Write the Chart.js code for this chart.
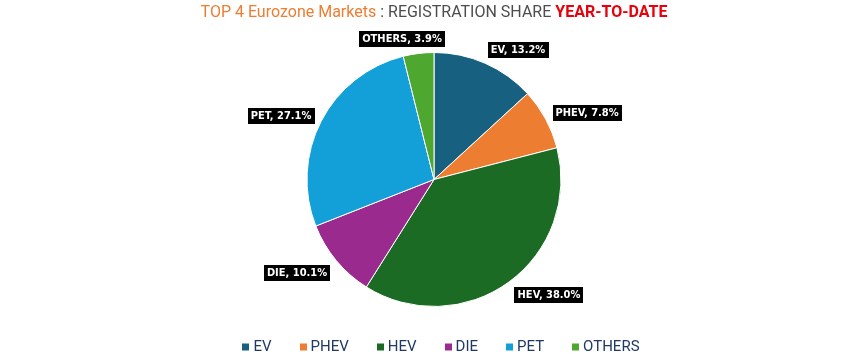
<!DOCTYPE html>
<html>
<head>
<meta charset="utf-8">
<script src="https://cdn.jsdelivr.net/npm/chart.js@4"></script>
<style>
  html, body { margin: 0; padding: 0; background: #ffffff; }
  #wrap { position: relative; width: 862px; height: 357px; }
</style>
</head>
<body>
<div id="wrap"><canvas id="c" width="862" height="357"></canvas></div>
<script>
// ---- data ----
const categories = ['EV', 'PHEV', 'HEV', 'DIE', 'PET', 'OTHERS'];
const shares = [13.2, 7.8, 38.0, 10.1, 27.1, 3.9];
const colors = ['#18607f', '#ed7d31', '#1b6b25', '#9b2a8f', '#139fd8', '#4ea72e'];
const titleParts = [
  { text: 'TOP 4 Eurozone Markets', color: '#ed7d31', weight: '400' },
  { text: ' : REGISTRATION SHARE ', color: '#4d4d4d', weight: '400' },
  { text: 'YEAR-TO-DATE', color: '#e8000b', weight: '700' }
];

const TITLE_FONT = 'Roboto, "Liberation Sans", sans-serif';
const LABEL_FONT = '"Liberation Sans Narrow", "DejaVu Sans Condensed", "Liberation Sans", sans-serif';
const LEGEND_FONT = 'Roboto, "Liberation Sans", sans-serif';
// small manual label shifts (style only), in px
const labelShift = [[0, 0], [2, 5], [2, 0], [-1, 1], [-1, 5], [0, 0]];

const titlePlugin = {
  id: 'multiTitle',
  afterDraw(chart) {
    const ctx = chart.ctx;
    ctx.save();
    ctx.textBaseline = 'alphabetic';
    let total = 0;
    const widths = titleParts.map(p => {
      ctx.font = p.weight + ' 16px ' + TITLE_FONT;
      const w = ctx.measureText(p.text).width;
      total += w;
      return w;
    });
    const cx = (chart.chartArea.left + chart.chartArea.right) / 2;
    let x = cx - total / 2;
    titleParts.forEach((p, i) => {
      ctx.font = p.weight + ' 16px ' + TITLE_FONT;
      ctx.fillStyle = p.color;
      ctx.textAlign = 'left';
      ctx.fillText(p.text, x, 17);
      x += widths[i];
    });
    ctx.restore();
  }
};

const labelPlugin = {
  id: 'boxLabels',
  afterDatasetsDraw(chart) {
    const ctx = chart.ctx;
    const meta = chart.getDatasetMeta(0);
    ctx.save();
    ctx.font = 'bold 11px ' + LABEL_FONT;
    ctx.textAlign = 'center';
    ctx.textBaseline = 'middle';
    meta.data.forEach((arc, i) => {
      const p = arc.getProps(['x', 'y', 'startAngle', 'endAngle', 'outerRadius'], true);
      const mid = (p.startAngle + p.endAngle) / 2;
      const ux = Math.cos(mid), uy = Math.sin(mid);
      const d = p.outerRadius + 6;
      const ax = p.x + ux * d, ay = p.y + uy * d;
      const text = categories[i] + ', ' + shares[i].toFixed(1) + '%';
      const w = ctx.measureText(text).width + 6;
      const h = 16;
      const k = 3;
      const cx = ax + (w / 2) * Math.max(-1, Math.min(1, ux * k)) + labelShift[i][0];
      const cy = ay + (h / 2) * Math.max(-1, Math.min(1, uy * k)) + labelShift[i][1];
      ctx.fillStyle = '#000000';
      ctx.fillRect(Math.round(cx - w / 2), Math.round(cy - h / 2), Math.round(w), h);
      ctx.fillStyle = '#ffffff';
      ctx.fillText(text, Math.round(cx), Math.round(cy) + 0.5);
    });
    ctx.restore();
  }
};

const legendPlugin = {
  id: 'customLegend',
  afterDraw(chart) {
    const ctx = chart.ctx;
    ctx.save();
    ctx.font = '400 15px ' + LEGEND_FONT;
    ctx.textBaseline = 'middle';
    ctx.textAlign = 'left';
    const box = 7, gapText = 4, gapItem = 28;
    const widths = categories.map(c => box + gapText + ctx.measureText(c).width);
    const total = widths.reduce((a, b) => a + b, 0) + gapItem * (categories.length - 1);
    let x = 441 - total / 2;
    const y = 347;
    categories.forEach((c, i) => {
      ctx.fillStyle = colors[i];
      ctx.fillRect(Math.round(x), y - 3.5, box, box);
      ctx.fillStyle = '#1f3864';
      ctx.fillText(c, x + box + gapText, y + 0.5);
      x += widths[i] + gapItem;
    });
    ctx.restore();
  }
};

new Chart(document.getElementById('c'), {
  type: 'pie',
  data: {
    labels: categories,
    datasets: [{
      data: shares,
      backgroundColor: colors,
      borderColor: '#ffffff',
      borderWidth: 1
    }]
  },
  options: {
    responsive: false,
    animation: false,
    layout: { padding: { top: 52, bottom: 50, left: 6, right: 0 } },
    plugins: {
      legend: { display: false },
      title: { display: false },
      tooltip: { enabled: false }
    }
  },
  plugins: [titlePlugin, labelPlugin, legendPlugin]
});
</script>
</body>
</html>
